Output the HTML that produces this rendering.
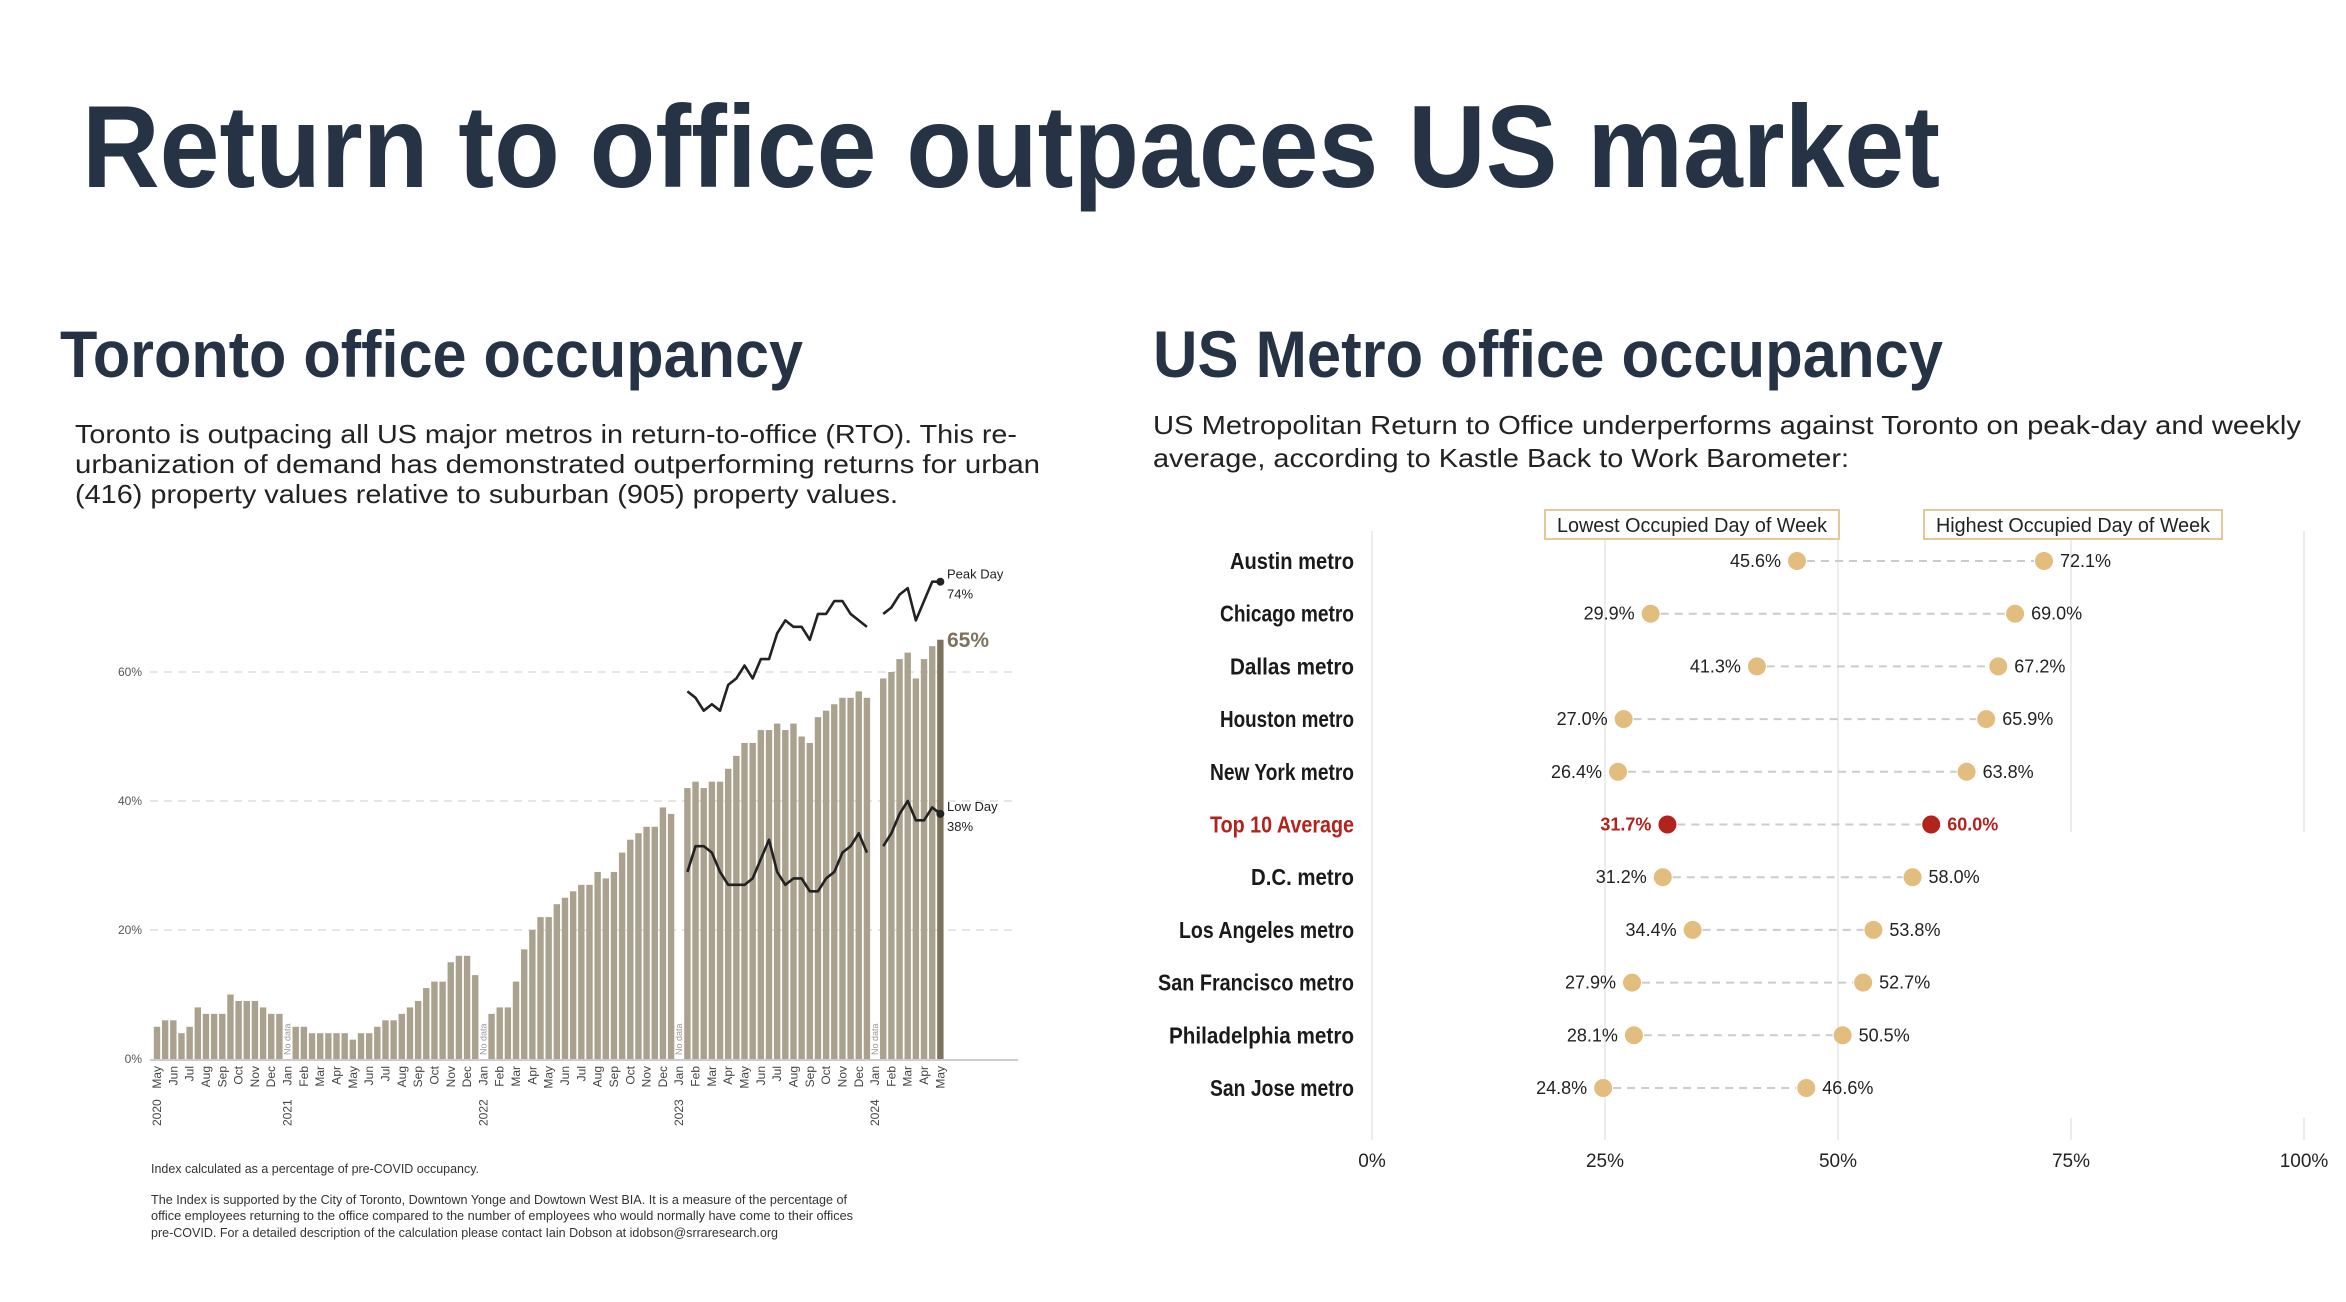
<!DOCTYPE html>
<html><head><meta charset="utf-8"><style>
html,body{margin:0;padding:0;background:#fff}
svg{display:block}
text{font-family:"Liberation Sans",sans-serif}
.cond{font-family:"Liberation Sans Narrow","Liberation Sans",sans-serif}
</style></head><body>
<svg id="s" width="2346" height="1302" viewBox="0 0 2346 1302" xmlns="http://www.w3.org/2000/svg">
<rect width="2346" height="1302" fill="#fff"/>
<text x="82" y="187" font-size="117" font-weight="bold" fill="#253345" textLength="1858" lengthAdjust="spacingAndGlyphs">Return to office outpaces US market</text>
<text x="60" y="377" font-size="66" font-weight="bold" fill="#253345" textLength="743" lengthAdjust="spacingAndGlyphs">Toronto office occupancy</text>
<text x="1153" y="377" font-size="66" font-weight="bold" fill="#253345" textLength="790" lengthAdjust="spacingAndGlyphs">US Metro office occupancy</text>
<g font-size="26" fill="#222">
<text x="75" y="443" textLength="942" lengthAdjust="spacingAndGlyphs">Toronto is outpacing all US major metros in return-to-office (RTO). This re-</text>
<text x="75" y="473" textLength="965" lengthAdjust="spacingAndGlyphs">urbanization of demand has demonstrated outperforming returns for urban</text>
<text x="75" y="503" textLength="823" lengthAdjust="spacingAndGlyphs">(416) property values relative to suburban (905) property values.</text>
</g>
<g font-size="26" fill="#222">
<text x="1153" y="434" textLength="1148" lengthAdjust="spacingAndGlyphs">US Metropolitan Return to Office underperforms against Toronto on peak-day and weekly</text>
<text x="1153" y="467" textLength="696" lengthAdjust="spacingAndGlyphs">average, according to Kastle Back to Work Barometer:</text>
</g>
<g id="tor"></g>
<g id="us"></g>
<g class="cond" font-size="13" fill="#333">
<text class="cond" x="151" y="1173" textLength="328" lengthAdjust="spacingAndGlyphs">Index calculated as a percentage of pre-COVID occupancy.</text>
<text class="cond" x="151" y="1204" textLength="696" lengthAdjust="spacingAndGlyphs">The Index is supported by the City of Toronto, Downtown Yonge and Dowtown West BIA. It is a measure of the percentage of</text>
<text class="cond" x="151" y="1220" textLength="702" lengthAdjust="spacingAndGlyphs">office employees returning to the office compared to the number of employees who would normally have come to their offices</text>
<text class="cond" x="151" y="1237" textLength="627" lengthAdjust="spacingAndGlyphs">pre-COVID. For a detailed description of the calculation please contact Iain Dobson at idobson@srraresearch.org</text>
</g>
</svg>
<script>
// ---------- Toronto data (one slot ≈ half month, May 2020 .. May 2024; null = no data) ----------
const torontoOccupancy = [5,6,6,4,5,8,7,7,7,10,9,9,9,8,7,7,null,5,5,4,4,4,4,4,3,4,4,5,6,6,7,8,9,11,12,12,15,16,16,13,null,7,8,8,12,17,20,22,22,24,25,26,27,27,29,28,29,32,34,35,36,36,39,38,null,42,43,42,43,43,45,47,49,49,51,51,52,51,52,50,49,53,54,55,56,56,57,56,null,59,60,62,63,59,62,64,65];
const peakDay = [57,56,54,55,54,58,59,61,59,62,62,66,68,67,67,65,69,69,71,71,69,68,67,null,69,70,72,73,68,71,74,74];
const lowDay = [29,33,33,32,29,27,27,27,28,31,34,29,27,28,28,26,26,28,29,32,33,35,32,null,33,35,38,40,37,37,39,38];
const lineStartSlot = 65;
const monthLabels = ["May","Jun","Jul","Aug","Sep","Oct","Nov","Dec","Jan","Feb","Mar","Apr","May","Jun","Jul","Aug","Sep","Oct","Nov","Dec","Jan","Feb","Mar","Apr","May","Jun","Jul","Aug","Sep","Oct","Nov","Dec","Jan","Feb","Mar","Apr","May","Jun","Jul","Aug","Sep","Oct","Nov","Dec","Jan","Feb","Mar","Apr","May"];
const yearLabels = ["2020","2021","2022","2023","2024"];
const yearMonthIndex = [0,8,20,32,44];
const torontoTicks = [0,20,40,60];

// ---------- US metro data ----------
const metros = ["Austin metro","Chicago metro","Dallas metro","Houston metro","New York metro","Top 10 Average","D.C. metro","Los Angeles metro","San Francisco metro","Philadelphia metro","San Jose metro"];
const lowestDay = [45.6,29.9,41.3,27.0,26.4,31.7,31.2,34.4,27.9,28.1,24.8];
const highestDay = [72.1,69.0,67.2,65.9,63.8,60.0,58.0,53.8,52.7,50.5,46.6];
const usTicks = [0,25,50,75,100];

const NS="http://www.w3.org/2000/svg";
function mk(tag,attrs,parent,txt){const e=document.createElementNS(NS,tag);for(const k in attrs)e.setAttribute(k,attrs[k]);if(txt!==undefined)e.textContent=txt;parent.appendChild(e);return e;}

// Toronto axes
const tor=document.getElementById('tor');
const tx=i=>157+i*8.16;
const ty=v=>1059-v*6.45;
torontoTicks.forEach(t=>{
  if(t>0){const g=mk('line',{x1:150,x2:1018,y1:ty(t),y2:ty(t),stroke:'#ddd','stroke-width':1.5,'stroke-dasharray':'8 6'},tor);
  
  }
  const l=mk('text',{x:142,y:ty(t)+4,'font-size':12,fill:'#555','text-anchor':'end'},tor,t+'%');
  
  
});
torontoOccupancy.forEach((v,i)=>{
  if(v===null){
    const n=mk('text',{x:0,y:0,'font-size':9,fill:'#999',transform:`translate(${tx(i)+3},${ty(0)-4}) rotate(-90)`},tor,'No data');
    
    
    return;
  }
  const b=mk('rect',{x:tx(i)-3.2,y:ty(v),width:6.4,height:ty(0)-ty(v),fill:i===torontoOccupancy.length-1?'#7e725c':'#aaa18e'},tor);
  
  
});
const ax=mk('line',{x1:150,x2:1018,y1:ty(0)+1,y2:ty(0)+1,stroke:'#ccc','stroke-width':2},tor);


monthLabels.forEach((m,k)=>{
  const t=mk('text',{x:0,y:0,'font-size':12,fill:'#444','text-anchor':'end',transform:`translate(${tx(2*k)+4},${ty(0)+7}) rotate(-90)`},tor,m);
  
  
});
yearLabels.forEach((y,k)=>{
  const t=mk('text',{x:0,y:0,'font-size':12,fill:'#444','text-anchor':'start',transform:`translate(${tx(2*yearMonthIndex[k])+4},1126) rotate(-90)`},tor,y);
  
  
});
function drawLine(arr,name){
  let d='',pen=false,last=null;
  arr.forEach((v,j)=>{
    if(v===null){pen=false;return;}
    const X=tx(lineStartSlot+j),Y=ty(v);
    d+=(pen?'L':'M')+X+' '+Y+' ';pen=true;last=[X,Y];
  });
  const p=mk('path',{d:d,fill:'none',stroke:'#222','stroke-width':2.6,'stroke-linejoin':'round'},tor);
  
  
  const c=mk('circle',{cx:last[0],cy:last[1],r:4,fill:'#222'},tor);
  
  
  return last;
}
const pk=drawLine(peakDay,'peak-day-line');
const lw=drawLine(lowDay,'low-day-line');
const a1=mk('text',{x:947,y:pk[1]-3,'font-size':13,fill:'#222',class:'cond'},tor,'Peak Day');


const a2=mk('text',{x:947,y:pk[1]+17,'font-size':13,fill:'#222',class:'cond'},tor,peakDay[peakDay.length-1]+'%');


const lastOcc=torontoOccupancy[torontoOccupancy.length-1];
const a3=mk('text',{x:947,y:ty(lastOcc)+7,'font-size':21,'font-weight':'bold',fill:'#7e725c',class:'cond'},tor,lastOcc+'%');


const a4=mk('text',{x:947,y:lw[1]-3,'font-size':13,fill:'#222',class:'cond'},tor,'Low Day');


const a5=mk('text',{x:947,y:lw[1]+17,'font-size':13,fill:'#222',class:'cond'},tor,lowDay[lowDay.length-1]+'%');



// US chart
const us=document.getElementById('us');
const ux=v=>1372+v*9.32;
const uy=i=>561+i*52.7;
usTicks.forEach(t=>{
  const bottom=t>=75?832:1140;
  const g=mk('line',{x1:ux(t),x2:ux(t),y1:531,y2:bottom,stroke:'#e6e6e6','stroke-width':1.5},us);
  
  
  if(t>=75){const g2=mk('line',{x1:ux(t),x2:ux(t),y1:1118,y2:1140,stroke:'#e6e6e6','stroke-width':1.5},us);
  
  }
  const l=mk('text',{x:ux(t),y:1167,'font-size':19,fill:'#222','text-anchor':'middle',class:'cond'},us,t+'%');
  
  
});
[['Lowest Occupied Day of Week',1545,294],['Highest Occupied Day of Week',1924,298]].forEach(([s,x,w],k)=>{
  const b=mk('rect',{x:x,y:510,width:w,height:29,fill:'#fff',stroke:'#e3c99a','stroke-width':2},us);
  
  
  const t=mk('text',{x:x+w/2,y:532,'font-size':20,fill:'#222','text-anchor':'middle',class:'cond',textLength:w-24,lengthAdjust:'spacingAndGlyphs'},us,s);
  
  
});
metros.forEach((m,i)=>{
  const red=m==='Top 10 Average';
  const col=red?'#b3231e':'#e2bd7e';
  const y=uy(i);
  const lbl=mk('text',{x:1354,y:y+8,'font-size':23,'font-weight':'bold',fill:red?'#b3231e':'#1a1a1a','text-anchor':'end',class:'cond',textLength:Math.round(m.length*10.3),lengthAdjust:'spacingAndGlyphs'},us,m);
  
  
  const ln=mk('line',{x1:ux(lowestDay[i])+10,x2:ux(highestDay[i])-10,y1:y,y2:y,stroke:'#ccc','stroke-width':2,'stroke-dasharray':'8 6'},us);
  
  
  const c1=mk('circle',{cx:ux(lowestDay[i]),cy:y,r:9,fill:col},us);
  
  
  const c2=mk('circle',{cx:ux(highestDay[i]),cy:y,r:9,fill:col},us);
  
  
  const v1=mk('text',{x:ux(lowestDay[i])-16,y:y+6,'font-size':18,fill:red?'#b3231e':'#222','font-weight':red?'bold':'normal','text-anchor':'end',class:'cond'},us,lowestDay[i].toFixed(1)+'%');
  
  
  const v2=mk('text',{x:ux(highestDay[i])+16,y:y+6,'font-size':18,fill:red?'#b3231e':'#222','font-weight':red?'bold':'normal',class:'cond'},us,highestDay[i].toFixed(1)+'%');
  
  
});
</script>
</body></html>
